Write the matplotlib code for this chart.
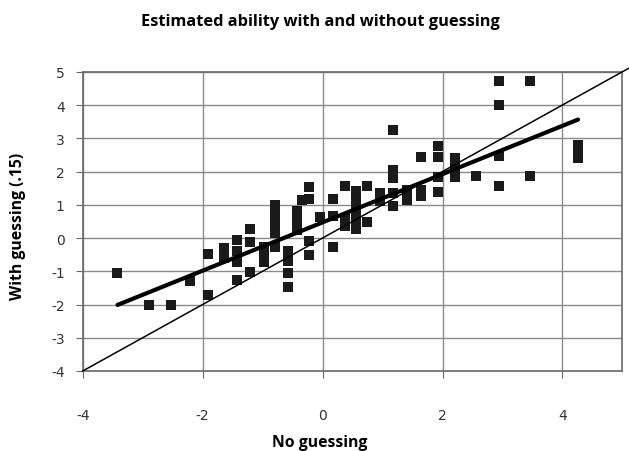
import numpy as np
import matplotlib
matplotlib.use('Agg')
import matplotlib.pyplot as plt

# ability estimates
no_guess = [-3.42, -2.9, -2.52, -2.21,
            -1.91, -1.91,
            -1.65, -1.65,
            -1.43, -1.43, -1.43, -1.43,
            -1.21, -1.21, -1.21,
            -0.98, -0.98, -0.98,
            -0.8, -0.8, -0.8, -0.8, -0.8,
            -0.58, -0.58, -0.58, -0.58,
            -0.43, -0.43, -0.43,
            -0.35,
            -0.23, -0.23, -0.23, -0.23,
            -0.04,
            0.18, 0.18, 0.18,
            0.38, 0.38, 0.38,
            0.55, 0.55, 0.55, 0.55, 0.55,
            0.74, 0.74,
            0.96, 0.96,
            1.18, 1.18, 1.18, 1.18, 1.18,
            1.4, 1.4,
            1.64, 1.64, 1.64,
            1.92, 1.92, 1.92, 1.92,
            2.21, 2.21, 2.21,
            2.56,
            2.94, 2.94, 2.94, 2.94,
            3.46, 3.46,
            4.26, 4.26, 4.26]
with_guess = [-1.05, -2.0, -2.0, -1.28,
              -0.48, -1.71,
              -0.3, -0.6,
              -0.05, -0.4, -0.72, -1.25,
              0.27, -0.13, -1.03,
              -0.28, -0.5, -0.72,
              1.0, 0.75, 0.45, 0.15, -0.27,
              -0.38, -0.7, -1.05, -1.48,
              0.8, 0.55, 0.25,
              1.15,
              1.52, 1.17, -0.1, -0.5,
              0.62,
              1.17, 0.65, -0.27,
              1.55, 0.6, 0.35,
              1.4, 1.1, 0.8, 0.5, 0.27,
              1.55, 0.47,
              1.35, 1.12,
              3.25, 2.05, 1.8, 1.35, 0.97,
              1.45, 1.15,
              2.43, 1.45, 1.27,
              2.78, 2.45, 1.85, 1.37,
              2.4, 2.1, 1.85,
              1.86,
              4.73, 4.0, 2.47, 1.57,
              4.73, 1.87,
              2.8, 2.55, 2.4]

# fitted trend line
trend_slope = 0.726
trend_intercept = 0.47

x_ticks = [-4, -2, 0, 2, 4]
y_ticks = [-4, -3, -2, -1, 0, 1, 2, 3, 4, 5]

plt.rcParams['font.family'] = ['Open Sans', 'DejaVu Sans']
plt.rcParams['axes.unicode_minus'] = False

fig = plt.figure(figsize=(6.29, 4.52), dpi=100)
ax = fig.add_axes([0.1315, 0.177, 0.858, 0.662])

ax.set_xlim(-4, 5)
ax.set_ylim(-4, 5)
ax.set_xticks(x_ticks)
ax.set_yticks(y_ticks)
ax.grid(True, color='#8a8a8a', linewidth=1.0)
ax.set_axisbelow(True)

for s in ax.spines.values():
    s.set_color('#6a6a6a')
    s.set_linewidth(1.2)

ax.tick_params(axis='both', direction='out', length=5, color='#6a6a6a',
               labelsize=10, labelcolor='#333333')
ax.tick_params(axis='x', pad=22)
ax.tick_params(axis='y', pad=8)
for lab in ax.get_xticklabels() + ax.get_yticklabels():
    lab.set_family(['Liberation Sans Narrow', 'DejaVu Sans'])

# data points
ax.plot(no_guess, with_guess, 's', color='#1a1a1a', markersize=7.3,
        markeredgewidth=0, zorder=3)

# identity line
ident = np.array([-4, 5.3])
ax.plot(ident, ident, color='black', linewidth=1.1, clip_on=False, zorder=4)

# trend line
tx = np.array([min(no_guess), max(no_guess)])
ax.plot(tx, trend_slope * tx + trend_intercept, color='black',
        linewidth=3.0, solid_capstyle='round', zorder=5)

fig.text(0.51, 0.952, 'Estimated ability with and without guessing',
         ha='center', va='center', fontsize=11.8, fontweight='bold')
fig.text(0.509, 0.02, 'No guessing', ha='center', va='center',
         fontsize=11.3, fontweight='bold')
fig.text(0.029, 0.50, 'With guessing (.15)', ha='center', va='center',
         rotation=90, fontsize=11.3, fontweight='bold')

fig.savefig('out.png', dpi=100)
